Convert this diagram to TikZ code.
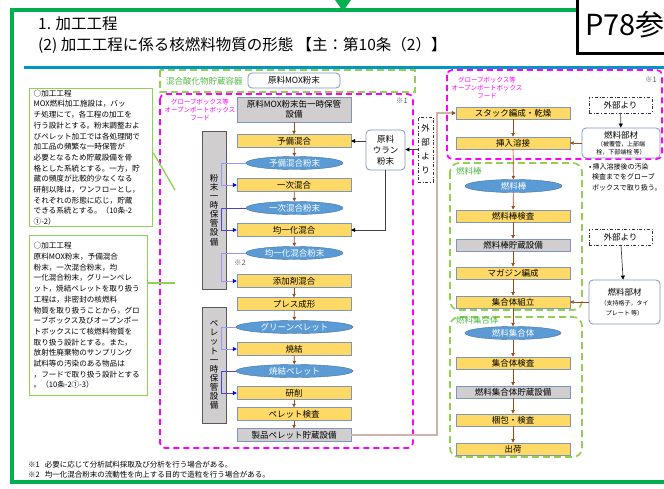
\documentclass[tikz,border=0pt]{standalone}
\usepackage{fontspec}
\setmainfont{Noto Sans CJK JP}
\usetikzlibrary{arrows.meta, positioning, shapes.geometric}
\definecolor{framegreen}{RGB}{0,176,80}
\definecolor{zonegreen}{RGB}{146,208,80}
\definecolor{taggreen}{RGB}{80,185,70}
\definecolor{gbpink}{RGB}{255,0,255}
\definecolor{rulerblue}{RGB}{0,150,200}
\definecolor{procfill}{RGB}{255,217,102}
\definecolor{storefill}{RGB}{208,206,206}
\definecolor{boxedge}{RGB}{125,150,185}
\definecolor{formfill}{RGB}{91,155,213}
\definecolor{formedge}{RGB}{65,113,156}
\definecolor{flowbrown}{RGB}{150,75,30}
\definecolor{feedlight}{RGB}{150,150,255}
\definecolor{feeddark}{RGB}{70,70,210}
\definecolor{pelletline}{RGB}{205,180,175}
\definecolor{notegray}{RGB}{90,90,90}
\newcommand{\boxfont}{\fontsize{8.5}{10}\selectfont}
\newcommand{\memofont}{\fontsize{7.6}{10.7}\selectfont}
\newcommand{\tagfont}{\fontsize{6.5}{8}\selectfont}
\newcommand{\subfont}{\fontsize{6}{7.5}\selectfont}
\tikzset{
  proc/.style={draw=boxedge, fill=procfill, minimum width=114pt, minimum height=13pt, inner sep=0pt, font=\boxfont},
  store/.style={proc, fill=storefill},
  form/.style={ellipse, draw=formedge, fill=formfill, text=white, minimum width=97pt, minimum height=13pt, inner sep=0pt, font=\boxfont},
  supply/.style={draw=boxedge, thick, rounded corners=4pt, fill=white, align=center, inner sep=0pt, font=\boxfont},
  outside/.style={draw=black!80, dash dot, inner sep=0pt, align=center, font=\boxfont},
  keep/.style={draw=black!65, thick, fill=storefill, minimum width=24pt, inner sep=0pt, align=center, font=\fontsize{8.5}{9.1}\selectfont},
  memo/.style={draw=zonegreen, line width=1.3pt, fill=white, anchor=north west, align=left, inner xsep=4pt, inner ysep=1pt, font=\memofont},
  gbzone/.style={draw=gbpink, line width=1.7pt, dash pattern=on 6pt off 4pt, rounded corners=5pt},
  fuelzone/.style={draw=zonegreen, line width=1.7pt, dash pattern=on 7pt off 4pt, rounded corners=9pt},
  tag/.style={text=gbpink, align=center, inner sep=0pt, font=\tagfont},
  zonetag/.style={text=taggreen, anchor=west, inner sep=0pt, font=\boxfont},
  refmark/.style={text=notegray, inner sep=0pt, font=\fontsize{7.5}{9}\selectfont},
  headline/.style={anchor=west, inner sep=0pt, font=\fontsize{15.5}{17}\selectfont},
  flow/.style={-{Triangle[length=3.5pt, width=3.5pt]}, flowbrown, line width=0.7pt},
  feed/.style={feedlight, line width=0.8pt, -{Triangle[length=4pt, width=4pt, color=blue]}},
  feedd/.style={feed, feeddark},
  link/.style={black!75, line width=0.7pt, -{Triangle[length=4pt, width=4pt, color=black]}},
  pellet/.style={pelletline, line width=1.2pt, -{Triangle[length=4pt, width=4pt, color=flowbrown]}},
  callout/.style={zonegreen, line width=1.3pt}
}

\begin{document}
\begin{tikzpicture}[x=1pt, y=-1pt]
    \useasboundingbox (0,0) rectangle (664,488);
    \draw[framegreen, line width=3.5pt] (12,10) rectangle (690,482);
    \fill[framegreen] (335,0) -- (351,0) -- (343,11) -- cycle;
    \node[draw, line width=2.5pt, fill=white, anchor=north west, minimum width=110pt, minimum height=58pt, text width=96pt, align=left, inner xsep=8pt, font=\fontsize{29}{30}\selectfont] (ref) at (576,-6) {P78参};
    \node[headline] (head1) at (38,24) {1. 加工工程};
    \node[headline] (head2) at (38,45) {(2) 加工工程に係る核燃料物質の形態 【主：第10条（2）】};
    \draw[rulerblue, line width=3pt] (24,67) -- (664,67);

    \node[memo, text width=115pt, minimum height=138pt] (memo1) at (29,88) {○加工工程\\MOX燃料加工施設は，バッ\\チ処理にて，各工程の加工を\\行う設計とする。粉末調整およ\\びペレット加工では各処理間で\\加工品の頻繁な一時保管が\\必要となるため貯蔵設備を骨\\格とした系統とする。一方，貯\\蔵の頻度が比較的少なくなる\\研削以降は，ワンフローとし，\\それぞれの形態に応じ，貯蔵\\できる系統とする。（10条-2\\①-2）};
    \node[memo, text width=110pt, minimum height=160pt] (memo2) at (29,235) {○加工工程\\原料MOX粉末，予備混合\\粉末，一次混合粉末，均\\一化混合粉末，グリーンペレ\\ット，焼結ペレットを取り扱う\\工程は，非密封の核燃料\\物質を取り扱うことから，グロ\\ーブボックス及びオープンポー\\トボックスにて核燃料物質を\\取り扱う設計とする。また，\\放射性廃棄物のサンプリング\\試料等の汚染のある物品は\\，フードで取り扱う設計とする\\。（10条-2①-3）};

    \draw[fuelzone, rounded corners=0pt] (160,70) rectangle (415,92);
    \node[zonetag] (mixtag) at (166,81) {混合酸化物貯蔵容器};
    \node[supply, minimum width=92pt, minimum height=15pt] (mox) at (294,80.5) {原料MOX粉末};
    \draw[gbzone] (160,94) rectangle (413,448);
    \node[tag] (gbtagL) at (200,110) {グローブボックス等\\オープンポートボックス\\フード};
    \node[refmark] (n1L) at (402,101) {※1};

    \node[keep, minimum height=158pt] (powderS) at (214,210) {粉\\末\\一\\時\\保\\管\\設\\備};
    \node[keep, minimum height=116pt] (pelletS) at (214,365) {ペ\\レ\\ッ\\ト\\一\\時\\保\\管\\設\\備};

    \node[store, minimum height=25pt, align=center] (canS) at (294,109.5) {原料MOX粉末缶一時保管\\設備};
    \node[proc] (pre) at (294,141) {予備混合};
    \node[form] (preP) at (294.5,163) {予備混合粉末};
    \node[proc] (first) at (294,185) {一次混合};
    \node[form] (firstP) at (294.5,208) {一次混合粉末};
    \node[proc] (homo) at (294,230) {均一化混合};
    \node[form] (homoP) at (294.5,253) {均一化混合粉末};
    \node[refmark] (n2) at (240,263) {※2};
    \node[proc] (add) at (294,281) {添加剤混合};
    \node[proc] (press) at (294,304) {プレス成形};
    \node[form, minimum width=117pt] (greenP) at (294.5,327) {グリーンペレット};
    \node[proc] (sinter) at (294,349) {焼結};
    \node[form, minimum width=117pt] (sinterP) at (294.5,371) {焼結ペレット};
    \node[proc] (grind) at (294,393) {研削};
    \node[proc] (pinsp) at (294,414) {ペレット検査};
    \node[store] (pstore) at (294,435) {製品ペレット貯蔵設備};

    \node[supply, minimum width=39pt, minimum height=40pt, font=\fontsize{8.5}{11}\selectfont] (uran) at (385.5,150) {原料\\ウラン\\粉末};
    \node[outside, minimum width=15pt, minimum height=65pt, font=\fontsize{8.5}{14}\selectfont] (extA) at (425.5,149.5) {外\\部\\よ\\り};

    \draw[gbzone] (447,70) rectangle (662,159);
    \node[tag] (gbtagR) at (487,88) {グローブボックス等\\オープンポートボックス\\フード};
    \node[refmark] (n1R) at (651,80) {※1};
    \draw[fuelzone] (450,163) rectangle (582,310);
    \node[zonetag] (rodtag) at (456,171) {燃料棒};
    \draw[fuelzone] (450,317) rectangle (582,457);
    \node[zonetag] (asmtag) at (456,320) {燃料集合体};

    \node[proc, minimum height=12.5pt] (stack) at (513,113) {スタック編成・乾燥};
    \node[proc, minimum height=12.5pt] (weld) at (513,143) {挿入溶接};
    \node[form] (rodF) at (513.5,186) {燃料棒};
    \node[proc, minimum height=12.5pt] (rodI) at (513,216) {燃料棒検査};
    \node[store, minimum height=12.5pt] (rodS) at (513,245) {燃料棒貯蔵設備};
    \node[proc, minimum height=12.5pt] (mag) at (513,273) {マガジン編成};
    \node[proc, minimum height=12.5pt] (asm) at (513,302) {集合体組立};
    \node[form, minimum width=96pt] (asmF) at (513,333) {燃料集合体};
    \node[proc, minimum height=12.5pt] (asmI) at (513,363) {集合体検査};
    \node[store, minimum height=12.5pt] (asmS) at (513,392) {燃料集合体貯蔵設備};
    \node[proc, minimum height=12.5pt] (pack) at (513,420) {梱包・検査};
    \node[proc, minimum height=12.5pt] (ship) at (513,449) {出荷};

    \node[outside, minimum width=63pt, minimum height=16pt] (extB) at (620.5,105) {外部より};
    \node[supply, minimum width=78pt, minimum height=30pt] (partA) at (621,143) {燃料部材\\[-2pt]{\subfont （被覆管，上部端}\\[-2.5pt]{\subfont 栓，下部端栓 等）}};
    \node[anchor=north west, align=left, inner sep=0pt, font=\fontsize{7}{10.5}\selectfont] (weldnote) at (589,163) {•\,挿入溶接後の汚染\\\hspace{3pt}検査までをグローブ\\\hspace{3pt}ボックスで取り扱う。};
    \node[outside, minimum width=63pt, minimum height=16pt] (extC) at (620.5,237) {外部より};
    \node[supply, minimum width=71pt, minimum height=44pt] (partB) at (624.5,302) {燃料部材\\{\subfont （支持格子，タイ}\\{\subfont プレート 等）}};

    \node[anchor=west, inner sep=0pt, font=\fontsize{7.5}{9}\selectfont] (foot1) at (28,465) {※1\hspace{5pt}必要に応じて分析試料採取及び分析を行う場合がある。};
    \node[anchor=west, inner sep=0pt, font=\fontsize{7.5}{9}\selectfont] (foot2) at (28,475) {※2\hspace{5pt}均一化混合粉末の流動性を向上する目的で造粒を行う場合がある。};

    \coordinate (bus) at (221,0);
    \coordinate (turn) at (437,0);
    \coordinate (tip1) at (175,190);
    \coordinate (tip2) at (175,283);

    \draw[flow] (canS) -- (pre);
    \draw[flow] (pre) -- (preP);
    \draw[flow] (first) -- (firstP);
    \draw[flow] (homo) -- (homoP);
    \draw[flow] (add) -- (press);
    \draw[flow] (press) -- (greenP);
    \draw[flow] (sinter) -- (sinterP);
    \draw[flow] (grind) -- (pinsp);
    \draw[flow] (pinsp) -- (pstore);
    \draw[feed] (preP.west) -- (preP.west -| bus) |- (first.west);
    \draw[feedd] (firstP.west) -- (firstP.west -| bus) |- (homo.west);
    \draw[feed] (homoP.west) -- (homoP.west -| bus) |- (add.west);
    \draw[feed] (greenP.west) -- (greenP.west -| bus) |- (sinter.west);
    \draw[feedd] (sinterP.west) -- (sinterP.west -| bus) |- (grind.west);
    \draw[link] (extA.west) -- (extA.west -| uran.east);
    \draw[link] (pre.east -| uran.west) -- (pre.east);
    \draw[link] (uran.south) |- (homo.east);
    \draw[pellet] (pstore.east) -- (pstore.east -| turn) |- (stack.west);

    \draw[flow] (stack) -- (weld);
    \draw[flow] (weld) -- (rodF);
    \draw[flow] (rodF) -- (rodI);
    \draw[flow] (rodI) -- (rodS);
    \draw[flow] (rodS) -- (mag);
    \draw[flow] (mag) -- (asm);
    \draw[flow] (asm) -- (asmF);
    \draw[flow] (asmF) -- (asmI);
    \draw[flow] (asmI) -- (asmS);
    \draw[flow] (asmS) -- (pack);
    \draw[flow] (pack) -- (ship);
    \draw[link] (extB) -- (partA);
    \draw[flow] (partA.west) -- (weld.east);
    \draw[link] (extC) -- (partB);
    \draw[flow] (partB.west) -- (asm.east);

    \draw[callout] ([yshift=5pt]memo1.east) -- (tip1);
    \draw[callout] (memo2.east |- tip2) -- (tip2);
\end{tikzpicture}
\end{document}
